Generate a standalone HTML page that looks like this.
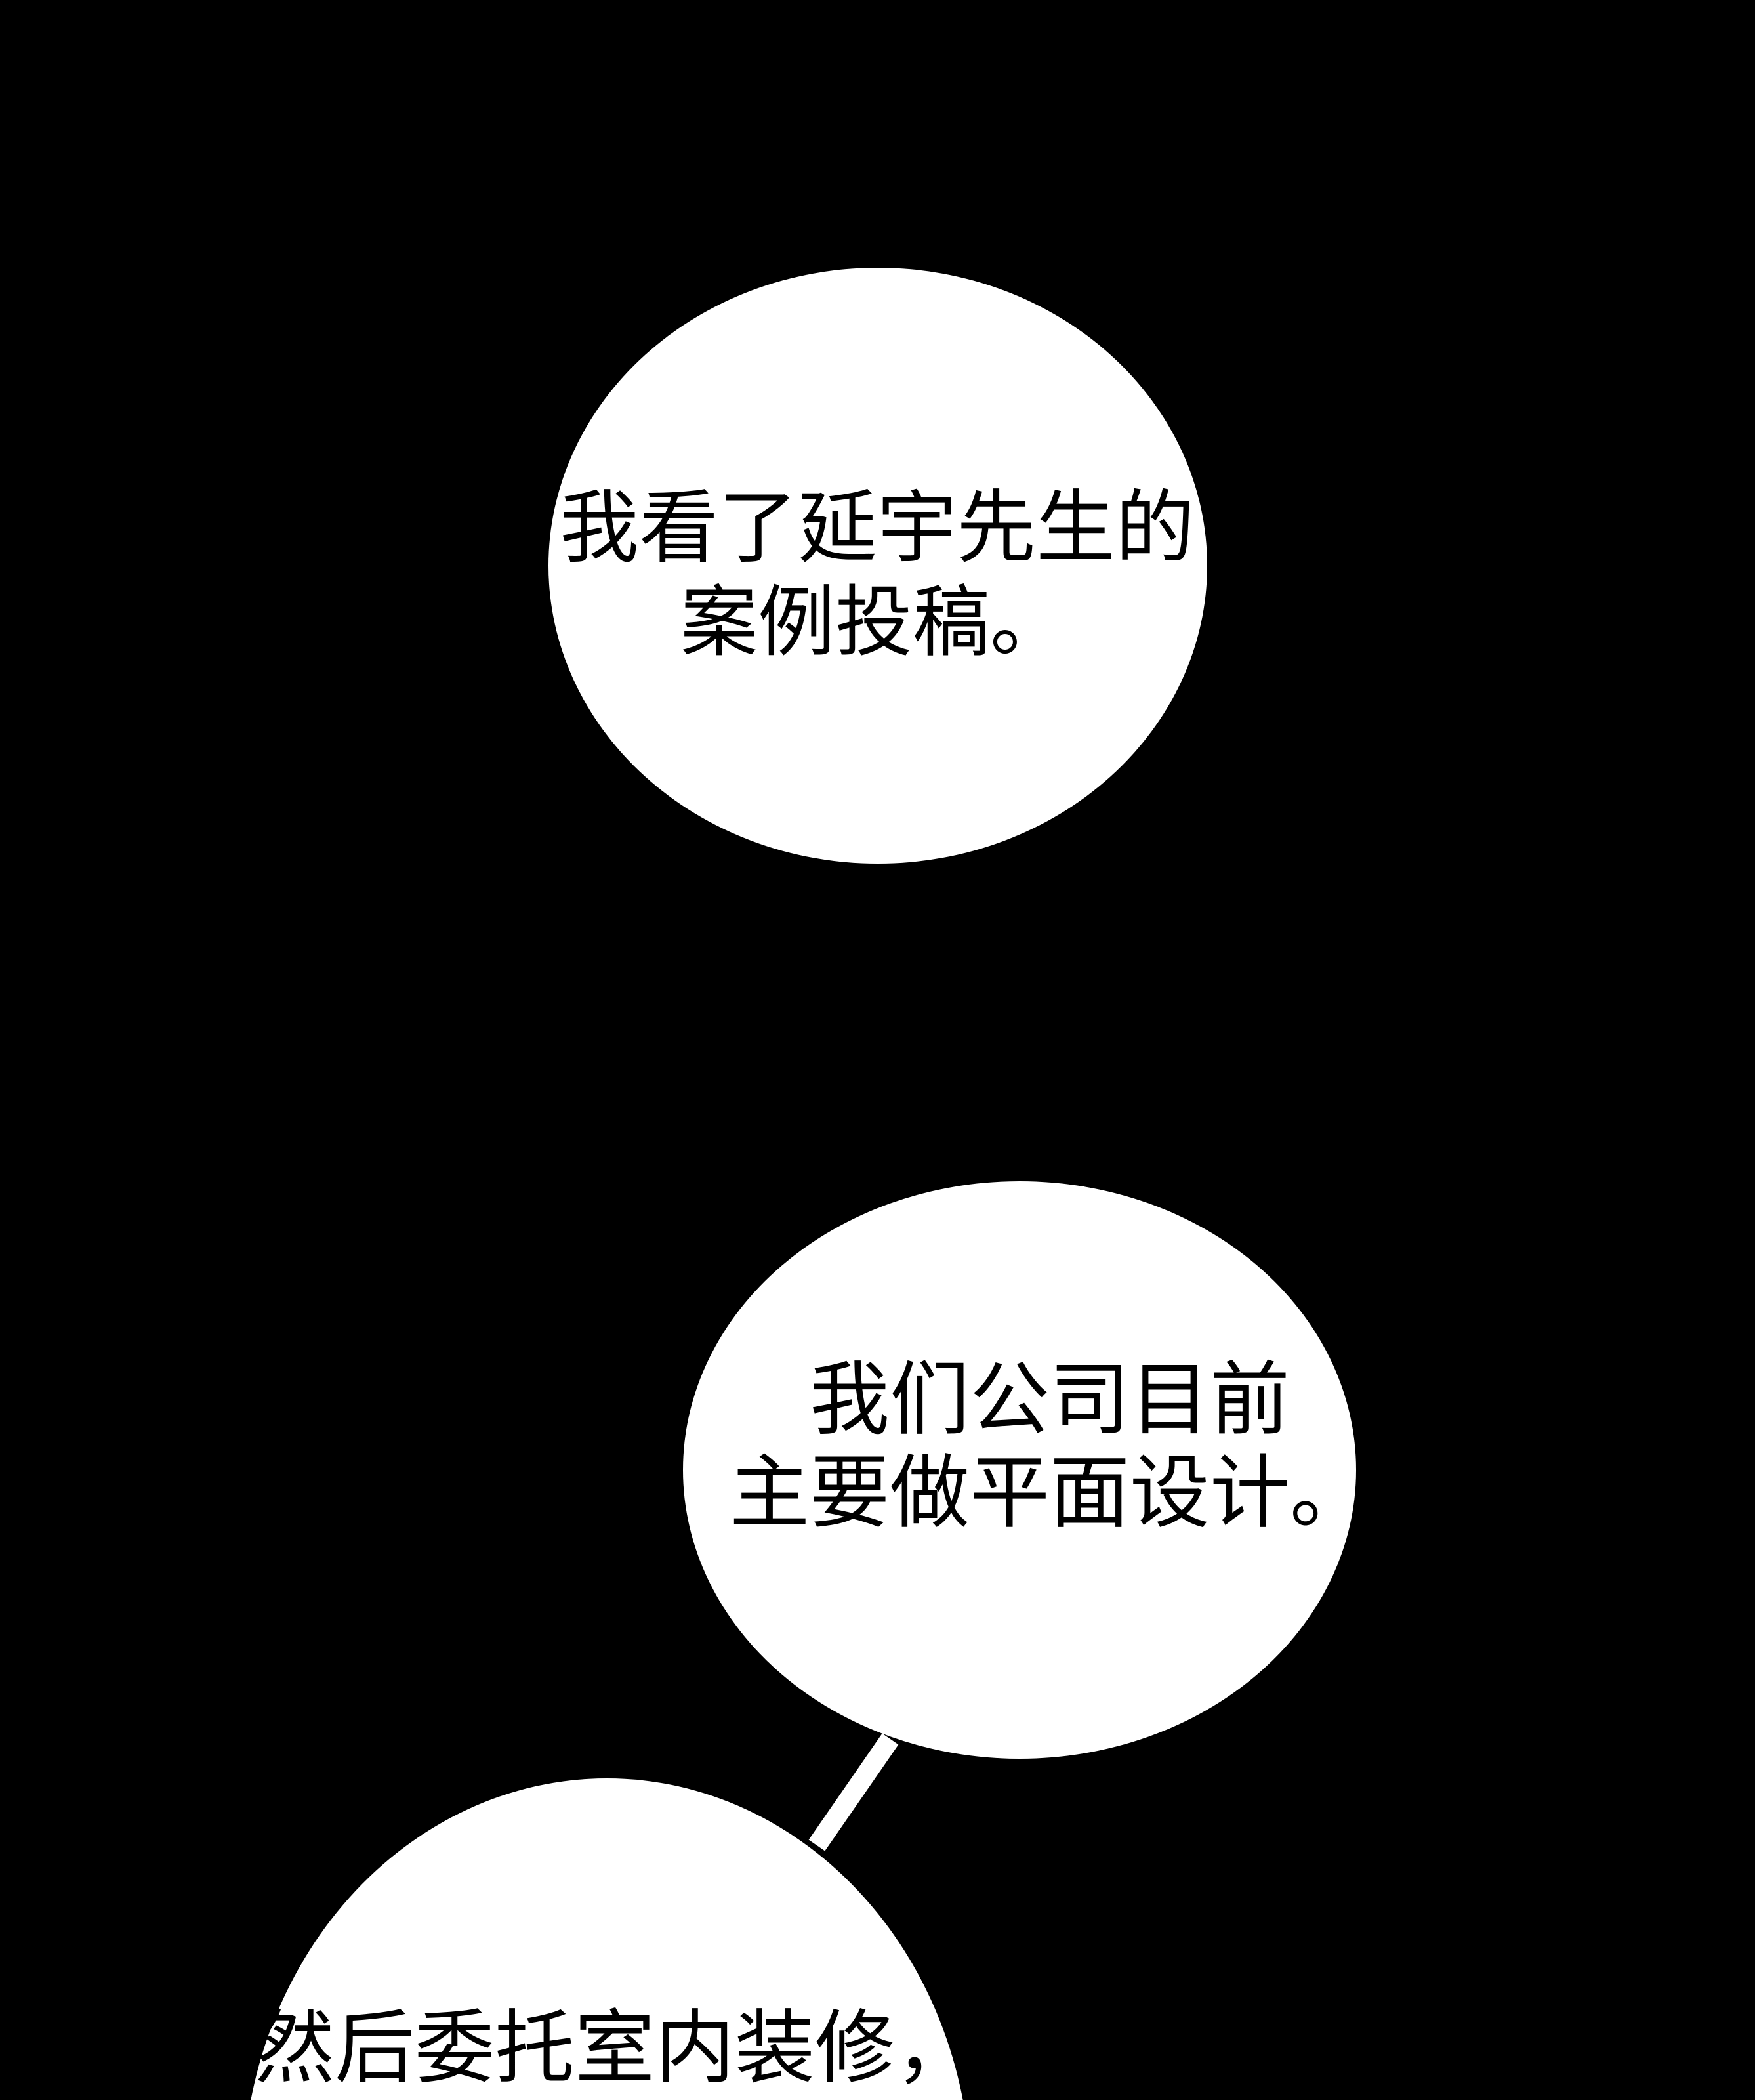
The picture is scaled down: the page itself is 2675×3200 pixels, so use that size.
<!DOCTYPE html>
<html><head><meta charset="utf-8"><style>
html,body{margin:0;padding:0;background:#000;overflow:hidden;height:3200px;}
body{width:2675px;height:3200px;position:relative;overflow:hidden;}
.t{position:absolute;white-space:nowrap;color:#000;font-family:"Liberation Sans","Noto Sans CJK SC",sans-serif;font-size:120px;line-height:1;}
</style></head><body>
<svg width="2675" height="3200" style="position:absolute;left:0;top:0">
<ellipse cx="1338" cy="862" rx="502" ry="454" fill="#fff"/>
<line x1="1357" y1="2650" x2="1245" y2="2812" stroke="#fff" stroke-width="30"/>
<ellipse cx="1554" cy="2240" rx="513" ry="440" fill="#fff"/>
<ellipse cx="925" cy="3330" rx="555" ry="620" fill="#fff"/>
</svg>
<div class="t" style="left:853px;top:744px;font-size:121px;">我看了延宇先生的</div>
<div class="t" style="left:1037px;top:890px;font-size:118px;">案例投稿。</div>
<div class="t" style="left:1234px;top:2072px;font-size:122px;">我们公司目前</div>
<div class="t" style="left:1112px;top:2214px;font-size:122px;">主要做平面设计。</div>
<div class="t" style="left:388px;top:3060px;font-size:122px;">然后委托室内装修，</div>
</body></html>
